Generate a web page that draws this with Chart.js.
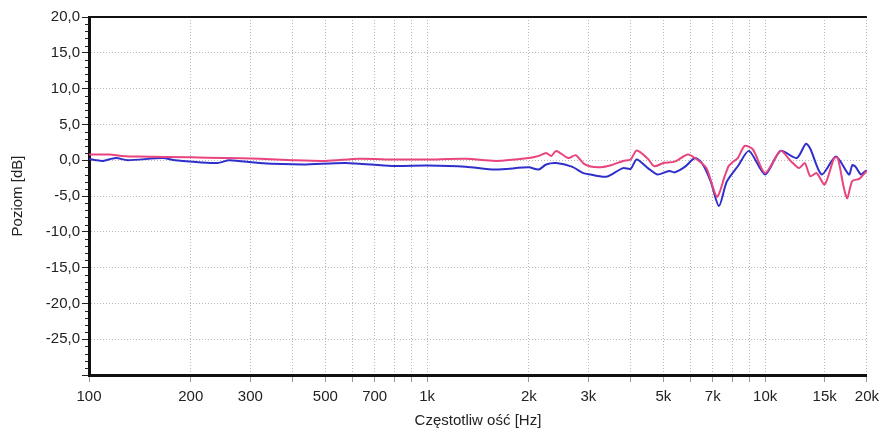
<!DOCTYPE html>
<html lang="pl">
<head>
<meta charset="UTF-8" />
<title>Poziom</title>
<style>
  html, body { margin: 0; padding: 0; background: #fff; }
  .box { width: 885px; height: 434px; position: relative; }
</style>
</head>
<body>
<div class="box"><canvas id="chart"></canvas></div>
<script src="https://cdn.jsdelivr.net/npm/chart.js@4/dist/chart.umd.min.js"></script>
<script>
// pink curve
var pinkFreq = [100, 115, 125, 140, 200, 250, 320, 400, 500, 630, 800, 1000, 1300, 1600, 2000, 2140, 2250, 2330, 2410, 2620, 2750, 2930, 3200, 3500, 3800, 4000, 4170, 4500, 4700, 5000, 5400, 5900, 6200, 6700, 7200, 7600, 7800, 8000, 8300, 8700, 9200, 10000, 11100, 11900, 12600, 13100, 13600, 14200, 15000, 16000, 16400, 17100, 17500, 18100, 19000, 19700, 20000];
var pinkDb   = [0.8, 0.8, 0.6, 0.5, 0.4, 0.3, 0.2, 0.0, -0.1, 0.2, 0.1, 0.1, 0.2, -0.1, 0.3, 0.6, 1.0, 0.6, 1.3, 0.3, 0.7, -0.6, -1.0, -0.7, -0.1, 0.1, 1.35, 0.2, -0.85, -0.4, -0.2, 0.8, 0.3, -1.1, -5.1, -2.2, -0.8, -0.3, 0.3, 2.0, 1.5, -1.8, 1.3, -0.1, -1.1, -0.4, -2.25, -1.8, -3.4, 0.3, 0.3, -3.9, -5.3, -2.9, -2.6, -1.8, -1.5];

// blue curve
var blueFreq = [100, 105, 110, 120, 130, 165, 180, 240, 260, 319, 428, 575, 787, 1000, 1300, 1590, 2000, 2140, 2250, 2410, 2680, 2900, 3050, 3200, 3400, 3800, 4000, 4170, 4500, 4800, 5200, 5400, 5800, 6200, 6500, 6900, 7300, 7700, 8300, 8960, 10000, 11100, 12400, 13200, 13600, 14700, 16200, 17700, 18100, 18500, 19200, 19700, 20000];
var blueDb   = [0.2, 0.0, -0.1, 0.3, 0.0, 0.3, 0.0, -0.4, 0.0, -0.4, -0.6, -0.4, -0.8, -0.75, -0.9, -1.3, -1.0, -1.3, -0.6, -0.4, -0.9, -1.8, -2.0, -2.2, -2.3, -1.1, -1.2, 0.1, -1.1, -2.0, -1.5, -1.7, -0.9, 0.3, -0.4, -2.95, -6.4, -3.0, -0.85, 1.3, -2.0, 1.3, 0.3, 2.3, 1.6, -2.0, 0.5, -2.0, -0.7, -0.9, -2.0, -1.6, -1.4];

// axis ticks
var xGrid = [100, 200, 300, 400, 500, 600, 700, 800, 900, 1000, 2000, 3000, 4000, 5000, 6000, 7000, 8000, 9000, 10000, 15000, 20000];
var xLabels = {100: '100', 200: '200', 300: '300', 500: '500', 700: '700', 1000: '1k', 2000: '2k', 3000: '3k', 5000: '5k', 7000: '7k', 10000: '10k', 15000: '15k', 20000: '20k'};
var yMin = -30, yMax = 20, yStep = 5;

function toPoints(fs, vs) {
  var out = [];
  for (var i = 0; i < fs.length; i++) out.push({x: fs[i], y: vs[i]});
  return out;
}

// top frame line + minor ticks on y axis
var extras = {
  id: 'extras',
  afterDraw: function (chart) {
    var c = chart.ctx, a = chart.chartArea, ys = chart.scales.y;
    c.save();
    c.strokeStyle = '#222';
    c.lineWidth = 1;
    for (var v = yMin; v <= yMax; v++) {
      if (v % yStep === 0) continue;
      var py = Math.round(ys.getPixelForValue(v)) + 0.5;
      c.beginPath(); c.moveTo(a.left - 4, py); c.lineTo(a.left, py); c.stroke();
    }
    c.lineWidth = 2;
    c.strokeStyle = '#111';
    c.beginPath(); c.moveTo(a.left, a.top); c.lineTo(a.right, a.top); c.stroke();
    c.restore();
  }
};

var font = "'Liberation Sans', Arial, sans-serif";

new Chart(document.getElementById('chart'), {
  type: 'line',
  data: {
    datasets: [
      { data: toPoints(pinkFreq, pinkDb), borderColor: '#e8447f', borderWidth: 2, pointRadius: 0, tension: 0.25 },
      { data: toPoints(blueFreq, blueDb), borderColor: '#2f2fcc', borderWidth: 2, pointRadius: 0, tension: 0.25 }
    ]
  },
  options: {
    responsive: true,
    maintainAspectRatio: false,
    animation: false,
    layout: { padding: { top: 17, right: 15, bottom: 0, left: 0 } },
    plugins: { legend: { display: false }, tooltip: { enabled: false } },
    scales: {
      x: {
        type: 'logarithmic',
        min: 100, max: 20000,
        afterBuildTicks: function (s) { s.ticks = xGrid.map(function (v) { return {value: v}; }); },
        afterFit: function (s) { s.height = 59; },
        ticks: {
          autoSkip: false, maxRotation: 0, padding: 6,
          color: '#222', font: { family: font, size: 15 },
          callback: function (v) { return xLabels[v] || ''; }
        },
        grid: { color: '#b8b8b8', tickColor: '#999', tickLength: 7, lineWidth: 1 },
        border: { color: '#111', width: 3, dash: [1, 2] },
        title: { display: true, text: 'Częstotliw ość [Hz]', color: '#222', font: { family: font, size: 15 }, padding: { top: 2, bottom: 4 } }
      },
      y: {
        min: yMin, max: yMax,
        afterFit: function (s) { s.width = 89; },
        ticks: {
          stepSize: yStep, padding: 2,
          color: '#222', font: { family: font, size: 15 },
          callback: function (v) { return v === yMin ? '' : v.toFixed(1).replace('.', ','); }
        },
        grid: { color: '#b8b8b8', tickColor: '#222', tickLength: 7, lineWidth: 1 },
        border: { color: '#111', width: 3, dash: [1, 2] },
        title: { display: true, text: 'Poziom [dB]', color: '#222', font: { family: font, size: 15 }, padding: { top: 9, bottom: 0 } }
      }
    }
  },
  plugins: [extras]
});
</script>
</body>
</html>
